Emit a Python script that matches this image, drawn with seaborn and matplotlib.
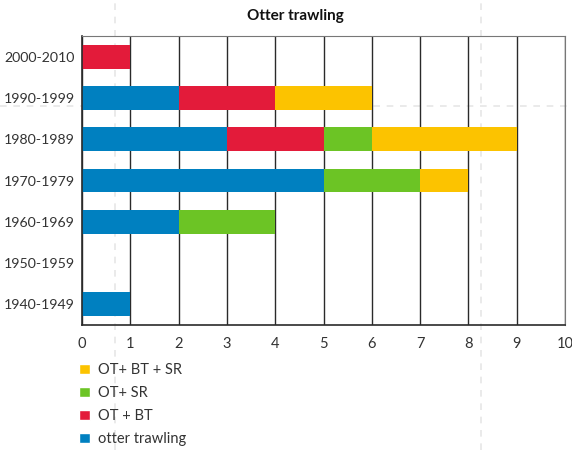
import numpy as np
import pandas as pd
import seaborn as sns
import matplotlib.pyplot as plt
from matplotlib.lines import Line2D
from matplotlib.patches import Patch

decades = ['2000-2010', '1990-1999', '1980-1989', '1970-1979',
           '1960-1969', '1950-1959', '1940-1949']
otter = [0, 2, 3, 5, 2, 0, 1]
ot_bt = [1, 2, 2, 0, 0, 0, 0]
ot_sr = [0, 0, 1, 2, 2, 0, 0]
ot_bt_sr = [0, 2, 3, 1, 0, 0, 0]

series = ['otter trawling', 'OT + BT', 'OT+ SR', 'OT+ BT + SR']
colors = ['#0080C0', '#E31B3A', '#6CC425', '#FCC300']

df = pd.DataFrame({'decade': decades, 'otter trawling': otter, 'OT + BT': ot_bt,
                   'OT+ SR': ot_sr, 'OT+ BT + SR': ot_bt_sr})
cum = df[series].cumsum(axis=1)
cum['decade'] = df['decade']

sns.set_style('white')
plt.rcParams['font.family'] = ['Lato', 'DejaVu Sans']

fig = plt.figure(figsize=(5.72, 4.5), dpi=100)
ax = fig.add_axes([82 / 572, 1 - 325 / 450, (565 - 82) / 572, (325 - 36) / 450])
ax.patch.set_alpha(0)

# draw cumulative layers, largest first
for s, c in zip(series[::-1], colors[::-1]):
    sns.barplot(data=cum, x=s, y='decade', order=decades, color=c, orient='h',
                width=0.58, saturation=1, ax=ax, linewidth=0)

ax.set_xlim(0, 10)
ax.set_ylim(6.5, -0.5)
ax.set_xticks(range(0, 11))
ax.set_xlabel('')
ax.set_ylabel('')
ax.set_axisbelow(True)
ax.grid(axis='x', color='#2a2a2a', lw=1)
ax.grid(axis='y', visible=False)
ax.tick_params(axis='x', length=0, pad=9, labelsize=10.5, labelcolor='#333333')
ax.tick_params(axis='y', length=0, pad=5, labelsize=10.2, labelcolor='#333333')
for side in ['left', 'bottom']:
    ax.spines[side].set_color('#2a2a2a')
    ax.spines[side].set_linewidth(1.2)
ax.spines['top'].set_color('#777777')
ax.spines['right'].set_color('#777777')
fig.text(295 / 572, 1 - 16 / 450, 'Otter trawling', fontsize=11, fontweight='bold',
         color='#111111', ha='center', va='center')

handles = [Patch(facecolor=c, label=s) for s, c in zip(series[::-1], colors[::-1])]
fig.legend(handles=handles, loc='upper left', bbox_to_anchor=(79 / 572, 1 - 363 / 450),
           frameon=False, fontsize=10.5, handlelength=0.75, handleheight=0.75,
           handletextpad=0.55, labelspacing=0.62, borderpad=0, borderaxespad=0,
           labelcolor='#333333')

# faint page guide lines
for x in [115, 481]:
    fig.add_artist(Line2D([x / 572, x / 572], [0, 1], color='#e6e6e6', lw=1.2,
                          ls=(0, (4, 4)), zorder=-1))
fig.add_artist(Line2D([0, 1], [1 - 106 / 450, 1 - 106 / 450], color='#e6e6e6', lw=1.2,
                      ls=(0, (4, 4)), zorder=-1))

fig.savefig('out.png', dpi=100)
